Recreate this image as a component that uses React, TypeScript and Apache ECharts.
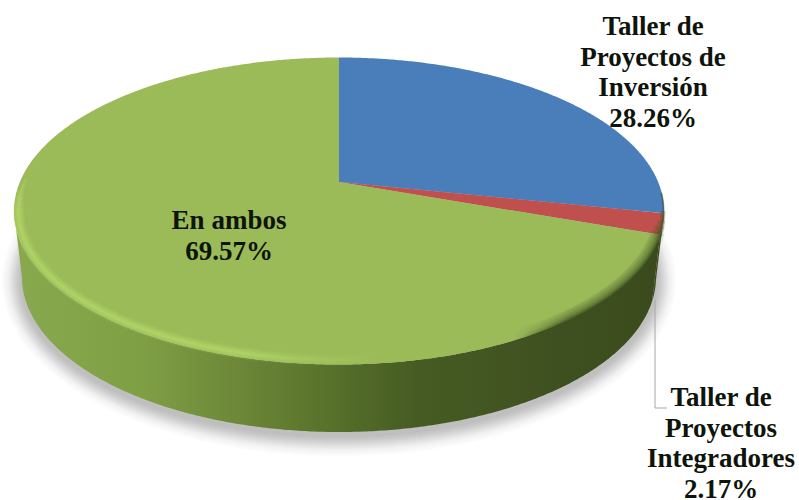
import React, { useEffect, useRef } from "react";
import * as echarts from "echarts";

// Shares of projects per workshop, clockwise from twelve o'clock.
const sliceNames = ["Taller de\nProyectos de\nInversión", "Taller de\nProyectos\nIntegradores", "En ambos"];
const sliceValues = [28.26, 2.17, 69.57];
const topColors = ["#4a7ebb", "#c0504d", "#9bbb59"];
const wallColors = ["#33452a", "#3b4a20"];

// Perspective disc: upper face, lower face and the tilted pie apex.
const TOP = { cx: 339, cy: 211, rx: 325, ry: 153.5 };
const BOTTOM = { cx: 339, cy: 277, rx: 317, ry: 155 };
const TILT = -0.189;
const TAU = Math.PI * 2;

// Moves the circle centre towards the far side while keeping the rim on the unit circle.
function unitPoint(theta: number): [number, number] {
  const u = Math.sin(theta);
  const v = -Math.cos(theta);
  const w = 1 + TILT * v;
  return [(u * Math.sqrt(1 - TILT * TILT)) / w, (v + TILT) / w];
}

function face(p: [number, number], e: typeof TOP): number[] {
  return [e.cx + e.rx * p[0], e.cy + e.ry * p[1]];
}

function sliceRange(index: number): [number, number] {
  const total = sliceValues.reduce((a, b) => a + b, 0);
  const before = sliceValues.slice(0, index).reduce((a, b) => a + b, 0);
  return [(before / total) * TAU, ((before + sliceValues[index]) / total) * TAU];
}

function samples(a: number, b: number): number[] {
  const n = Math.max(4, Math.ceil((b - a) / 0.008));
  return Array.from({ length: n + 1 }, (_, i) => a + ((b - a) * i) / n);
}

function ellipsePoints(e: typeof TOP, from = 0, to = TAU): number[][] {
  return samples(from, to).map((t) => [e.cx + e.rx * Math.cos(t), e.cy + e.ry * Math.sin(t)]);
}

function hGrad(stops: [number, string][]) {
  return new echarts.graphic.LinearGradient(
    0, 0, 1, 0,
    stops.map(([offset, color]) => ({ offset, color }))
  );
}

function renderWall(params: any) {
  const i = params.dataIndex;
  const [a, b] = sliceRange(i);
  const front = samples(a, b).map(unitPoint).filter((p) => p[1] >= 0);
  if (front.length < 2) return { type: "group", children: [] };
  const outline = [...front.map((p) => face(p, TOP)), ...front.slice().reverse().map((p) => face(p, BOTTOM))];
  const fill =
    i < wallColors.length
      ? wallColors[i]
      : hGrad([
          [0, "#88a94d"],
          [0.2, "#7f9f45"],
          [0.4, "#657f33"],
          [0.5, "#566f2a"],
          [0.62, "#465c23"],
          [0.85, "#3f5020"],
          [1, "#3a4a1c"],
        ]);
  return { type: "polygon", shape: { points: outline }, style: { fill } };
}

function renderSlice(params: any) {
  const i = params.dataIndex;
  const [a, b] = sliceRange(i);
  const arc = samples(a, b).map((t) => face(unitPoint(t), TOP));
  return {
    type: "polygon",
    shape: { points: [[TOP.cx, TOP.cy + TOP.ry * TILT], ...arc] },
    style: { fill: topColors[i] },
  };
}

// Bevel along the front of the upper face: pale on the left, dark on the right.
// Narrower strokes run further round the rim, so each end tapers away.
function renderBevel() {
  const arcAt = (d: number, from: number, to: number) =>
    ellipsePoints({ ...TOP, rx: TOP.rx - d, ry: TOP.ry - d }, from, to);
  const glow = (alpha: number) =>
    hGrad([
      [0, `rgba(188,226,108,${alpha})`],
      [0.38, `rgba(188,226,108,${alpha})`],
      [0.5, `rgba(188,226,108,${alpha * 0.35})`],
      [0.62, "rgba(188,226,108,0)"],
      [1, "rgba(188,226,108,0)"],
    ]);
  const dark = (alpha: number) =>
    hGrad([
      [0, "rgba(60,78,30,0)"],
      [0.56, "rgba(60,78,30,0)"],
      [0.72, `rgba(60,78,30,${alpha})`],
      [1, `rgba(60,78,30,${alpha})`],
    ]);
  const glowBands = [
    { width: 12, end: 0.02, alpha: 0.08 },
    { width: 10, end: 0.06, alpha: 0.1 },
    { width: 8, end: 0.1, alpha: 0.12 },
    { width: 6, end: 0.14, alpha: 0.14 },
    { width: 4, end: 0.18, alpha: 0.16 },
    { width: 2, end: 0.22, alpha: 0.2 },
  ].map(({ width, end, alpha }) => ({
    type: "polyline",
    shape: { points: arcAt(4.5, 0.6, Math.PI + end) },
    style: { fill: "none", stroke: glow(alpha), lineWidth: width },
  }));
  const darkBands = [
    { width: 14, offset: 3, start: 0.14, alpha: 0.12 },
    { width: 11, offset: 3, start: 0.1, alpha: 0.14 },
    { width: 8, offset: 2, start: 0.06, alpha: 0.2 },
    { width: 5, offset: 1, start: 0.0, alpha: 0.28 },
    { width: 2, offset: 0.5, start: -0.12, alpha: 0.5 },
  ].map(({ width, offset, start, alpha }) => ({
    type: "polyline",
    shape: { points: arcAt(offset, start, 1.6) },
    style: { fill: "none", stroke: dark(alpha), lineWidth: width },
  }));
  return { type: "group", children: [...glowBands, ...darkBands] };
}

// Soft cast shadow built from stacked translucent outlines.
const castSpreads = [20, 18, 16, 14, 13, 12, 11, 10, 9, 8, 7, 6, 5, 4, 3, 2, 1];
function renderCast() {
  return {
    type: "group",
    children: castSpreads.map((d) => ({
      type: "polygon",
      shape: {
        points: ellipsePoints({ ...BOTTOM, cy: BOTTOM.cy + 4, rx: BOTTOM.rx + d, ry: BOTTOM.ry + d }),
      },
      style: { fill: "rgba(40,40,50,0.018)" },
    })),
  };
}

const labelFont = "bold 27px 'Liberation Serif', serif";
const labelSpots = [
  { x: 653, y: 72, lineHeight: 30.5 },
  { x: 721, y: 443, lineHeight: 30.5 },
  { x: 229, y: 235, lineHeight: 31 },
];

function renderLabel(params: any) {
  const i = params.dataIndex;
  const spot = labelSpots[i];
  return {
    type: "text",
    x: spot.x,
    y: spot.y,
    style: {
      text: `${sliceNames[i]}\n${sliceValues[i].toFixed(2)}%`,
      font: labelFont,
      fill: "#0e140a",
      align: "center",
      verticalAlign: "middle",
      lineHeight: spot.lineHeight,
    },
  };
}

export default function App() {
  const ref = useRef<HTMLDivElement>(null);
  useEffect(() => {
    document.body.style.margin = "0";
    const chart = echarts.init(ref.current!, undefined, { renderer: "svg" });
    const data = sliceValues.map((value, i) => ({ value, name: sliceNames[i] }));
    const custom = (renderItem: any, z: number, d: any[] = data) => ({
      type: "custom",
      coordinateSystem: "none",
      renderItem,
      data: d,
      z,
      silent: true,
    });
    chart.setOption({
      animation: false,
      backgroundColor: "#ffffff",
      series: [
        custom(renderCast, 1, [0]),
        custom(renderWall, 2),
        custom(renderSlice, 3),
        custom(renderBevel, 4, [0]),
        custom(renderLabel, 6),
      ],
      graphic: [
        {
          type: "polyline",
          z: 5,
          shape: { points: [[655, 300], [655, 408], [667, 408]] },
          style: { fill: "none", stroke: "#a6a6a6", lineWidth: 1 },
        },
      ],
    });
    return () => chart.dispose();
  }, []);
  return <div ref={ref} style={{ position: "absolute", left: 0, top: 0, width: 799, height: 500 }} />;
}
